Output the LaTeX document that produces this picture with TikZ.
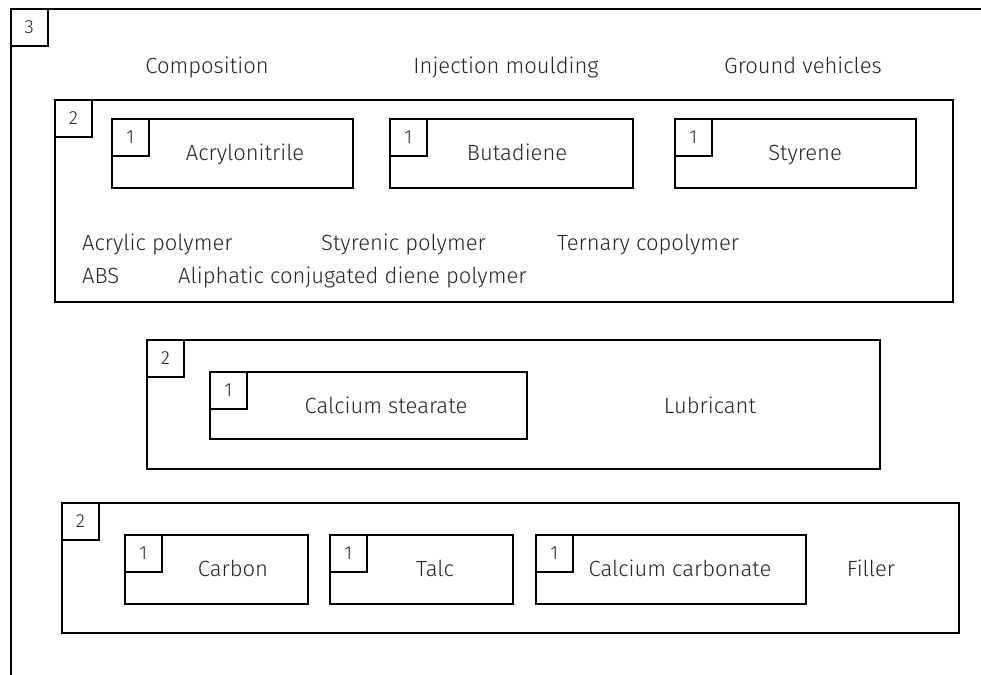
\documentclass[tikz,border=0pt]{standalone}
\usepackage{fontspec}
\setmainfont{Fira Sans Light}
\usetikzlibrary{positioning}
\tikzset{
  frame/.style={draw,line width=1.6pt,inner sep=0pt,anchor=north west},
  tag/.style={draw,line width=1.6pt,inner sep=0pt,minimum size=37pt,
              anchor=north west,font=\fontsize{19}{23}\selectfont,text=black!85},
  lbl/.style={font=\fontsize{22}{26}\selectfont,text=black!85,inner sep=0pt,anchor=base},
  lblw/.style={lbl,anchor=base west}
}

\begin{document}
\begin{tikzpicture}[x=1pt,y=-1pt]
  \useasboundingbox (0,0) rectangle (981,674);
  \clip (0,0) rectangle (981,674);

  % level 3
  \node[frame,minimum width=1100pt,minimum height=800pt] (c3) at (10,8) {};
  \node[tag] (c3t) at (c3.north west) {3};
  \node[lbl] (comp) at (207,74) {Composition};
  \node[lbl] (mould) at (506,74) {Injection moulding};
  \node[lbl] (vehic) at (803,74) {Ground vehicles};

  % level 2: polymer
  \node[frame,minimum width=898pt,minimum height=202pt] (poly) at (54,99) {};
  \node[tag] (polyt) at (poly.north west) {2};
  \node[frame,minimum width=241pt,minimum height=69pt] (acry) at (111,118) {};
  \node[tag] (acryt) at (acry.north west) {1};
  \node[lbl] (acryl) at (245,160) {Acrylonitrile};
  \node[frame,minimum width=243pt,minimum height=69pt] (buta) at (389,118) {};
  \node[tag] (butat) at (buta.north west) {1};
  \node[lbl] (butal) at (517,160) {Butadiene};
  \node[frame,minimum width=241pt,minimum height=69pt] (styr) at (674,118) {};
  \node[tag] (styrt) at (styr.north west) {1};
  \node[lbl] (styrl) at (805,160) {Styrene};
  \node[lblw] (acrp) at (82,250) {Acrylic polymer};
  \node[lblw] (styp) at (321,250) {Styrenic polymer};
  \node[lblw] (terp) at (557,250) {Ternary copolymer};
  \node[lblw] (abs) at (82,283) {ABS};
  \node[lblw] (alip) at (178,283) {Aliphatic conjugated diene polymer};

  % level 2: lubricant
  \node[frame,minimum width=733pt,minimum height=129pt] (lubr) at (146,339) {};
  \node[tag] (lubrt) at (lubr.north west) {2};
  \node[frame,minimum width=317pt,minimum height=67pt] (stea) at (209,371) {};
  \node[tag] (steat) at (stea.north west) {1};
  \node[lbl] (steal) at (386,413) {Calcium stearate};
  \node[lbl] (lubrl) at (710,413) {Lubricant};

  % level 2: filler
  \node[frame,minimum width=897pt,minimum height=130pt] (fill) at (61,502) {};
  \node[tag] (fillt) at (fill.north west) {2};
  \node[frame,minimum width=183pt,minimum height=69pt] (carb) at (124,534) {};
  \node[tag] (carbt) at (carb.north west) {1};
  \node[lbl] (carbl) at (233,576) {Carbon};
  \node[frame,minimum width=183pt,minimum height=69pt] (talc) at (329,534) {};
  \node[tag] (talct) at (talc.north west) {1};
  \node[lbl] (talcl) at (435,576) {Talc};
  \node[frame,minimum width=270pt,minimum height=69pt] (caco) at (535,534) {};
  \node[tag] (cacot) at (caco.north west) {1};
  \node[lbl] (cacol) at (680,576) {Calcium carbonate};
  \node[lbl] (filll) at (871,576) {Filler};
\end{tikzpicture}
\end{document}
